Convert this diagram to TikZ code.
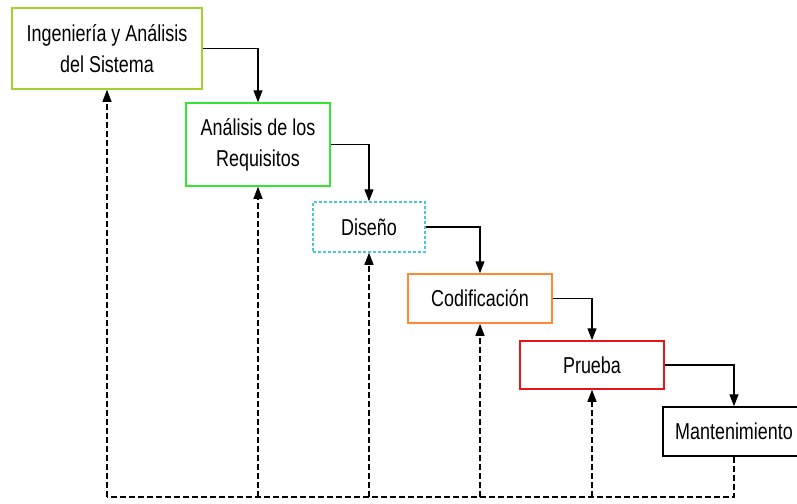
\documentclass[tikz,border=0pt]{standalone}
\usepackage{fontspec}
\setmainfont[FakeStretch=0.78]{Liberation Sans}
\usetikzlibrary{arrows.meta}
\definecolor{cIng}{RGB}{160,210,40}
\definecolor{cReq}{RGB}{50,230,50}
\definecolor{cDis}{RGB}{70,200,220}
\definecolor{cCod}{RGB}{255,136,51}
\definecolor{cPru}{RGB}{235,20,20}
\tikzset{
  fase/.style={draw, line width=1.5pt, fill=white, inner sep=0pt, align=center,
    font=\fontsize{23}{31}\selectfont},
  flujo/.style={line width=1.3pt, -{Triangle[width=9pt,length=12pt]}},
  retro/.style={line width=1.2pt, dash pattern=on 6pt off 3pt},
}
\begin{document}
\begin{tikzpicture}[x=1pt,y=-1pt]
	\useasboundingbox (0,0) rectangle (797,503);
	\clip (0,0) rectangle (797,503);
	\node[fase, draw=cIng, minimum width=190pt, minimum height=81pt] (ing) at (107,48.5) {Ingeniería y Análisis\\del Sistema};
	\node[fase, draw=cReq, minimum width=144pt, minimum height=83pt] (req) at (258,144.5) {Análisis de los\\Requisitos};
	\node[fase, draw=cDis, densely dashed, minimum width=112pt, minimum height=50pt] (dis) at (369,227) {Diseño};
	\node[fase, draw=cCod, minimum width=144pt, minimum height=49pt] (cod) at (480,298.5) {Codificación};
	\node[fase, draw=cPru, minimum width=144pt, minimum height=48pt] (pru) at (592,365) {Prueba};
	\node[fase, draw=black, minimum width=142pt, minimum height=49pt] (man) at (734,431.5) {Mantenimiento};
	% cascada
	\draw[flujo] (ing.east) -| (req.north);
	\draw[flujo] (req.east) -| (dis.north);
	\draw[flujo] (dis.east) -| (cod.north);
	\draw[flujo] (cod.east) -| (pru.north);
	\draw[flujo] (pru.east) -| (man.north);
	% retroalimentacion
	\coordinate (base) at (0,497);
	\draw[retro] (man.south) -- (man.south |- base) -- (ing.south |- base);
	\draw[retro,-{Triangle[width=9pt,length=12pt]}] (ing.south |- base) -- (ing.south);
	\draw[retro,-{Triangle[width=9pt,length=12pt]}] (req.south |- base) -- (req.south);
	\draw[retro,-{Triangle[width=9pt,length=12pt]}] (dis.south |- base) -- (dis.south);
	\draw[retro,-{Triangle[width=9pt,length=12pt]}] (cod.south |- base) -- (cod.south);
	\draw[retro,-{Triangle[width=9pt,length=12pt]}] (pru.south |- base) -- (pru.south);
\end{tikzpicture}
\end{document}
